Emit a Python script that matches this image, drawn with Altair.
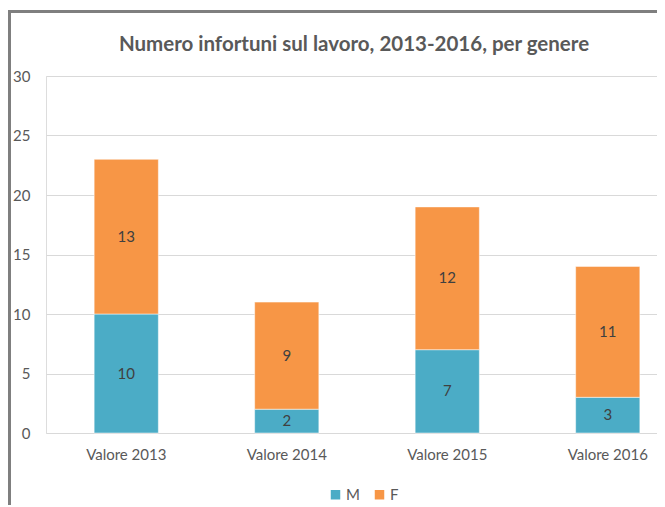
import altair as alt
import pandas as pd

years = ["Valore 2013", "Valore 2014", "Valore 2015", "Valore 2016"]
m_values = [10, 2, 7, 3]
f_values = [13, 9, 12, 11]
series = ["M", "F"]
colors = ["#4BACC6", "#F79646"]
title_text = "Numero infortuni sul lavoro, 2013-2016, per genere"

rows = []
for i, y in enumerate(years):
    rows.append({"anno": y, "genere": "M", "valore": m_values[i], "ordine": 0})
    rows.append({"anno": y, "genere": "F", "valore": f_values[i], "ordine": 1})
df = pd.DataFrame(rows)

FONT = "Lato"

x_enc = alt.X("anno:N", sort=years, title=None,
              scale=alt.Scale(paddingInner=0.6, paddingOuter=0.3, range=[0, 642]),
              axis=alt.Axis(labelAngle=0, ticks=False, domain=False, grid=False,
                            labelPadding=14, labelFontSize=15, labelColor="#595959",
                            labelFont=FONT))
y_enc = alt.Y("sum(valore):Q", stack="zero", title=None,
              scale=alt.Scale(domain=[0, 30]),
              axis=alt.Axis(values=[0, 5, 10, 15, 20, 25, 30], ticks=False, domain=False,
                            gridColor="#D9D9D9", gridWidth=1, labelPadding=16,
                            labelFontSize=15, labelColor="#595959", labelFont=FONT))

base = alt.Chart(df)

bars = base.mark_bar(stroke="white", strokeWidth=0.5).encode(
    x=x_enc,
    y=y_enc,
    color=alt.Color("genere:N", sort=series,
                    scale=alt.Scale(domain=series, range=colors),
                    legend=alt.Legend(title=None, orient="none", direction="horizontal",
                                      legendX=282, legendY=411, symbolType="square",
                                      symbolSize=90, symbolStrokeWidth=0,
                                      labelFontSize=15, labelColor="#595959",
                                      labelFont=FONT, columnPadding=12, labelOffset=3)),
    order=alt.Order("ordine:Q"),
)

labels = base.transform_stack(
    stack="valore", groupby=["anno"], as_=["v0", "v1"], sort=[alt.SortField("ordine")]
).transform_calculate(
    mid="(datum.v0 + datum.v1) / 2"
).mark_text(fontSize=15, color="#404040", font=FONT).encode(
    x=alt.X("anno:N", sort=years),
    y=alt.Y("mid:Q"),
    text=alt.Text("valore:Q"),
)

title = alt.Chart(pd.DataFrame({"t": [title_text]})).mark_text(
    fontSize=20.5, fontWeight="bold", color="#595959", font=FONT, align="center",
    baseline="middle"
).encode(x=alt.value(308), y=alt.value(-31), text="t:N")

frame_left = alt.Chart(pd.DataFrame({"a": [0]})).mark_rule(
    color="#7F7F7F", strokeWidth=3
).encode(x=alt.value(-36.5), y=alt.value(-65), y2=alt.value(440))

frame_top = alt.Chart(pd.DataFrame({"a": [0]})).mark_rule(
    color="#7F7F7F", strokeWidth=3
).encode(x=alt.value(-38), x2=alt.value(620), y=alt.value(-64.5))

chart = alt.layer(bars, labels, title, frame_left, frame_top).properties(
    width=611, height=357,
    autosize=alt.AutoSizeParams(type="none"),
    padding={"left": 38, "top": 68, "right": 0, "bottom": 72},
).configure_view(stroke=None).configure(background="white")

chart.save("out.html", embed_options={"renderer": "svg", "actions": False})
